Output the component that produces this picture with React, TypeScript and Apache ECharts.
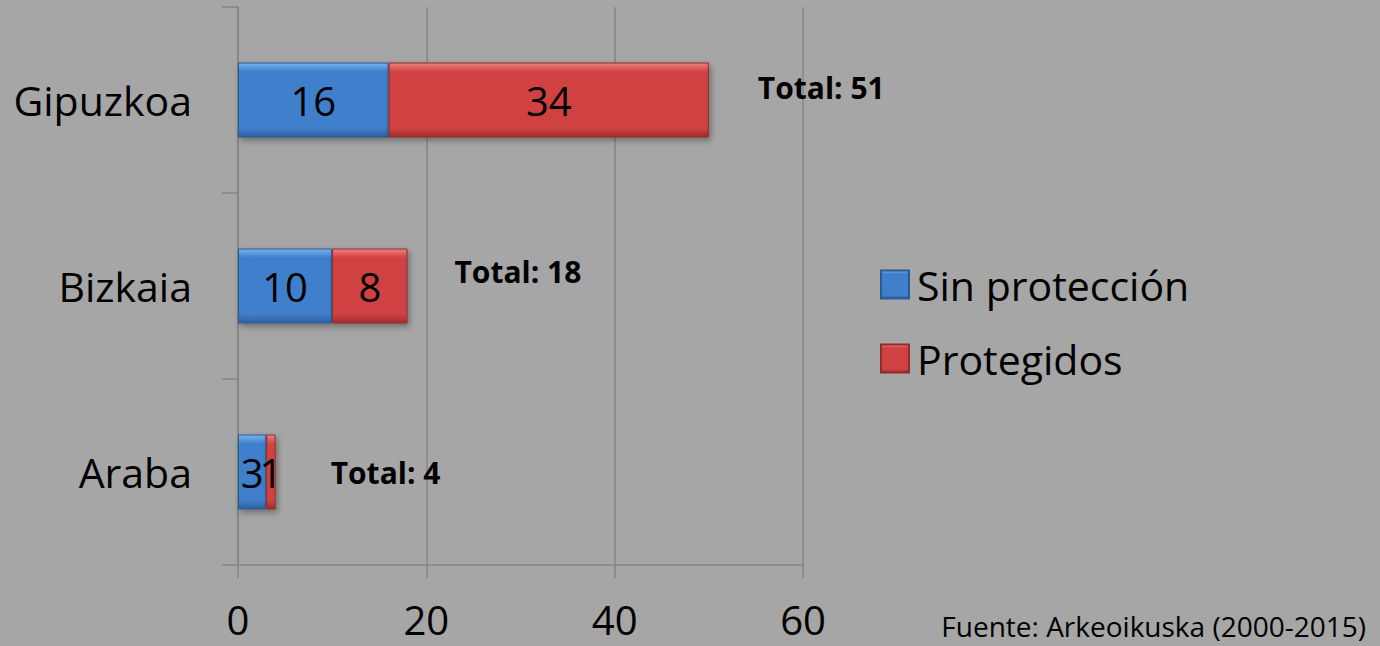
import React, { useEffect, useRef } from "react";
import * as echarts from "echarts";

const categories = ["Araba", "Bizkaia", "Gipuzkoa"];
const sinProteccion = [3, 10, 16];
const protegidos = [1, 8, 34];
const totalLabels = ["Total: 4", "Total: 18", "Total: 51"];
const xTicks = [0, 20, 40, 60];
const seriesNames = ["Sin protección", "Protegidos"];
const sourceText = "Fuente: Arkeoikuska (2000-2015)";

const FONT = "'Open Sans', 'Noto Sans', sans-serif";

export default function App() {
  const ref = useRef<HTMLDivElement>(null);
  useEffect(() => {
    if (!ref.current) return;
    const chart = echarts.init(ref.current, null, { renderer: "svg" });
    const grad = (top: string, mid: string, bot: string) =>
      new echarts.graphic.LinearGradient(0, 0, 0, 1, [
        { offset: 0, color: top },
        { offset: 0.12, color: mid },
        { offset: 0.88, color: mid },
        { offset: 1, color: bot },
      ]);
    const labelOffsets = [
      [50, 0],
      [42, -15],
      [44, -13],
    ];
    chart.setOption({
      animation: false,
      backgroundColor: "#a6a6a6",
      textStyle: { fontFamily: FONT },
      grid: { left: 238, top: 7, right: 577, bottom: 81, containLabel: false },
      legend: {
        orient: "vertical",
        left: 875,
        top: 259,
        itemWidth: 28,
        itemHeight: 28,
        itemGap: 33,
        icon: "rect",
        data: seriesNames,
        textStyle: { fontSize: 41, color: "#000", fontFamily: FONT, padding: [0, 0, 0, 3] },
      },
      xAxis: {
        type: "value",
        min: xTicks[0],
        max: xTicks[xTicks.length - 1],
        interval: 20,
        axisLine: { show: true, lineStyle: { color: "#858585", width: 1.5 } },
        axisTick: { show: true, length: 13, lineStyle: { color: "#858585", width: 1.5 } },
        splitLine: { show: true, lineStyle: { color: "#858585", width: 1.5 } },
        axisLabel: { fontSize: 40, lineHeight: 40, color: "#000", margin: 34, fontFamily: FONT },
      },
      yAxis: {
        type: "category",
        data: categories,
        axisLine: { show: true, lineStyle: { color: "#858585", width: 1.5 } },
        axisTick: { show: true, length: 16, alignWithLabel: false, lineStyle: { color: "#858585", width: 1.5 } },
        axisLabel: { fontSize: 41, color: "#000", margin: 46, fontFamily: FONT },
      },
      series: [
        {
          name: seriesNames[0],
          type: "bar",
          stack: "t",
          barWidth: 75,
          data: sinProteccion,
          itemStyle: {
            color: grad("#78b3f0", "#3f7fcc", "#2d5f9e"),
            borderColor: "#2c5a8f",
            borderWidth: 1,
            shadowColor: "rgba(0,0,0,0.35)",
            shadowBlur: 6,
            shadowOffsetX: 2,
            shadowOffsetY: 3,
          },
          label: { show: true, position: "inside", fontSize: 40, color: "#000", fontFamily: FONT },
        },
        {
          name: seriesNames[1],
          type: "bar",
          stack: "t",
          barWidth: 75,
          data: protegidos,
          itemStyle: {
            color: grad("#f08080", "#d04242", "#a02c2c"),
            borderColor: "#8f2c2c",
            borderWidth: 1,
            shadowColor: "rgba(0,0,0,0.35)",
            shadowBlur: 6,
            shadowOffsetX: 2,
            shadowOffsetY: 3,
          },
          label: { show: true, position: "inside", fontSize: 40, color: "#000", fontFamily: FONT },
        },
        {
          type: "scatter",
          symbolSize: 0,
          silent: true,
          itemStyle: { opacity: 1 },
          data: categories.map((c, i) => ({
            value: [sinProteccion[i] + protegidos[i], c],
            label: {
              show: true,
              position: "right",
              offset: labelOffsets[i],
              formatter: totalLabels[i],
              fontSize: 30,
              fontWeight: "bold",
              color: "#000",
              opacity: 1,
              fontFamily: FONT,
            },
          })),
        },
      ],
      graphic: [
        {
          type: "text",
          right: 14,
          top: 612,
          style: { text: sourceText, fontSize: 28, fill: "#000", fontFamily: FONT },
        },
      ],
    });
    return () => chart.dispose();
  }, []);
  return (
    <div
      ref={ref}
      style={{ position: "fixed", left: 0, top: 0, width: 1380, height: 646 }}
    />
  );
}
